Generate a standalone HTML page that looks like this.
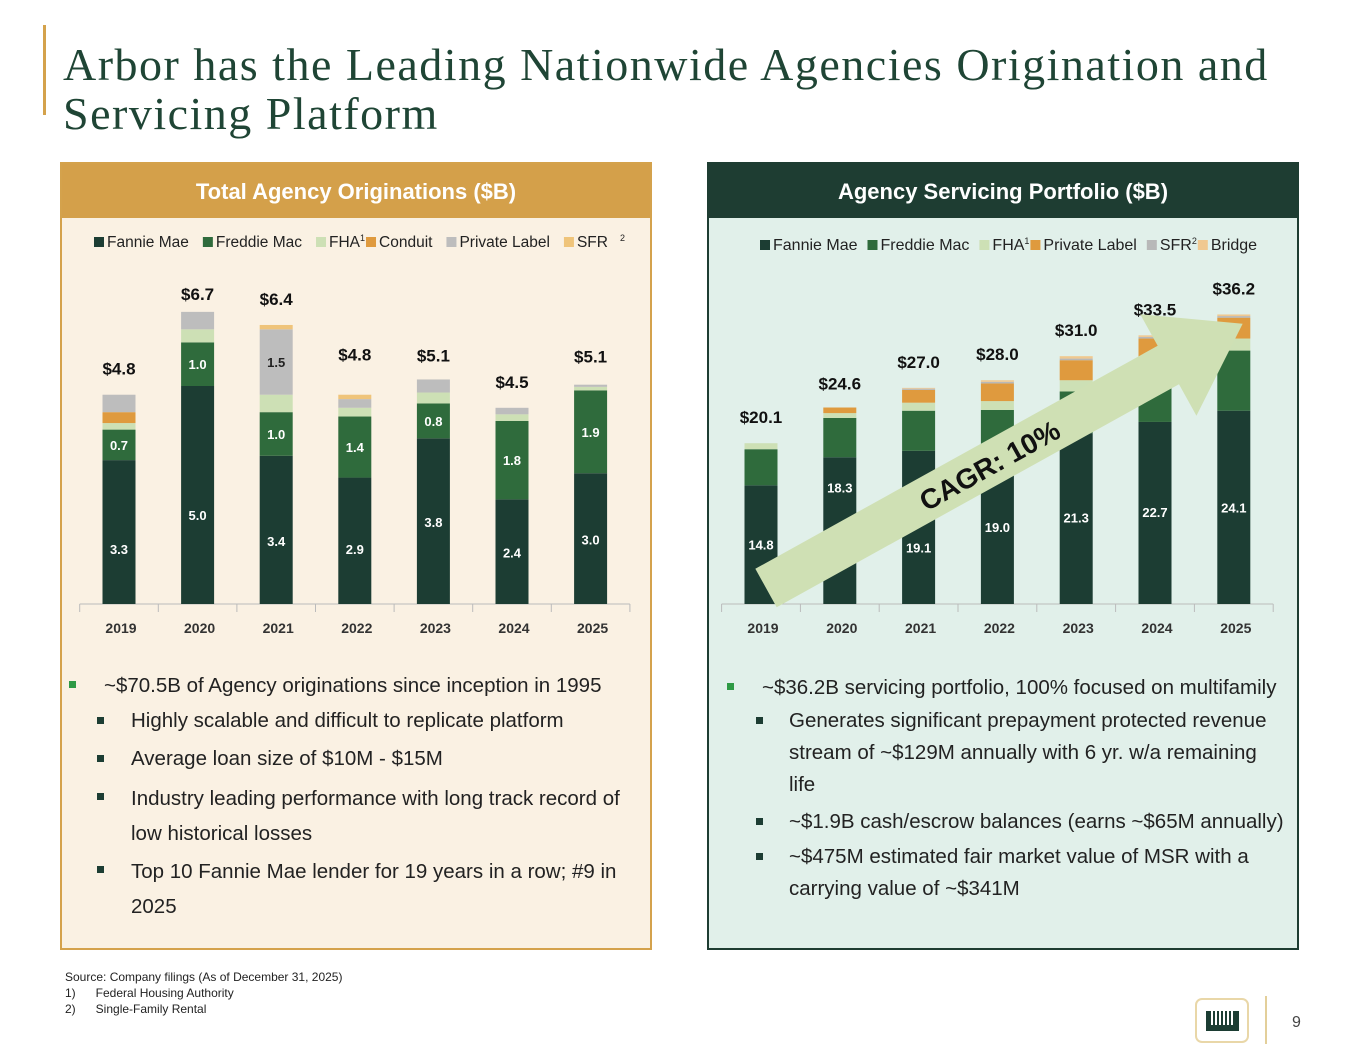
<!DOCTYPE html>
<html><head><meta charset="utf-8">
<style>
*{margin:0;padding:0;box-sizing:border-box}
body{width:1365px;height:1055px;background:#fff;position:relative;overflow:hidden;font-family:"Liberation Sans",Arial,sans-serif}
.abs{position:absolute}
#title{left:63px;top:40px;font-family:"Liberation Serif",serif;font-size:46px;letter-spacing:1.5px;line-height:49px;color:#1f4535}
.panel{position:absolute;top:162px;height:788px;width:592px}
.hdr{position:absolute;left:0;top:0;width:100%;height:54px;color:#fff;font-weight:bold;font-size:22px;text-align:center;line-height:56px}
.b{position:absolute;font-size:20.5px;line-height:32px;color:#222;white-space:nowrap}
.m{position:absolute;width:7px;height:7px}
.fn{position:absolute;font-size:12px;color:#222}
</style></head><body>
<div class="abs" style="left:43px;top:25px;width:3px;height:90px;background:#d4a24c"></div>
<div id="title" class="abs">Arbor has the Leading Nationwide Agencies Origination and<br>Servicing Platform</div>

<div class="panel" style="left:60px;background:#faf1e3;border:2px solid #d4a24c">
 <div class="hdr" style="background:#d4a04a">Total Agency Originations ($B)</div>
</div>
<div class="panel" style="left:707px;background:#e1f0ea;border:2px solid #1e3d32">
 <div class="hdr" style="background:#1e3d32">Agency Servicing Portfolio ($B)</div>
</div>

<svg class="abs" style="left:0;top:0" width="1365" height="1055" id="charts"></svg>

<!-- left bullets -->
<div class="m" style="left:69px;top:681px;background:#2e9a45"></div>
<div class="b" style="left:104px;top:670px">~$70.5B of Agency originations since inception in 1995</div>
<div class="m" style="left:97px;top:717px;background:#1c3d33"></div>
<div class="b" style="left:131px;top:705px">Highly scalable and difficult to replicate platform</div>
<div class="m" style="left:97px;top:755px;background:#1c3d33"></div>
<div class="b" style="left:131px;top:743px">Average loan size of $10M - $15M</div>
<div class="m" style="left:97px;top:793px;background:#1c3d33"></div>
<div class="b" style="left:131px;top:781px;line-height:35px">Industry leading performance with long track record of<br>low historical losses</div>
<div class="m" style="left:97px;top:866px;background:#1c3d33"></div>
<div class="b" style="left:131px;top:854px;line-height:35px">Top 10 Fannie Mae lender for 19 years in a row; #9 in<br>2025</div>

<!-- right bullets -->
<div class="m" style="left:727px;top:683px;background:#2e9a45"></div>
<div class="b" style="left:762px;top:672px">~$36.2B servicing portfolio, 100% focused on multifamily</div>
<div class="m" style="left:756px;top:717px;background:#1c3d33"></div>
<div class="b" style="left:789px;top:705px">Generates significant prepayment protected revenue<br>stream of ~$129M annually with 6 yr. w/a remaining<br>life</div>
<div class="m" style="left:756px;top:818px;background:#1c3d33"></div>
<div class="b" style="left:789px;top:806px">~$1.9B cash/escrow balances (earns ~$65M annually)</div>
<div class="m" style="left:756px;top:853px;background:#1c3d33"></div>
<div class="b" style="left:789px;top:841px">~$475M estimated fair market value of MSR with a<br>carrying value of ~$341M</div>

<div class="fn" style="left:65px;top:970px">Source: Company filings (As of December 31, 2025)</div>
<div class="fn" style="left:65px;top:986px">1)&nbsp;&nbsp;&nbsp;&nbsp;&nbsp;&nbsp;Federal Housing Authority</div>
<div class="fn" style="left:65px;top:1002px">2)&nbsp;&nbsp;&nbsp;&nbsp;&nbsp;&nbsp;Single-Family Rental</div>

<div class="abs" style="left:1195px;top:998px;width:54px;height:45px;border:2px solid #e9d7a8;border-radius:7px;background:#fff">
 <div style="position:absolute;left:9px;top:11px;width:33px;height:20px;background:#1c3d33"></div>
 <div style="position:absolute;left:14px;top:11px;width:23px;height:14px;background:repeating-linear-gradient(90deg,#fff 0 2px,#1c3d33 2px 4px)"></div>
</div>
<div class="abs" style="left:1265px;top:996px;width:2px;height:48px;background:#e3cf9a"></div>
<div class="abs" style="left:1292px;top:1014px;font-size:16px;color:#444">9</div>

<script>
const years = ['2019','2020','2021','2022','2023','2024','2025'];
// Left chart: Total Agency Originations ($B)
const oFannie = [3.3,5.0,3.4,2.9,3.8,2.4,3.0];
const oFreddie = [0.7,1.0,1.0,1.4,0.8,1.8,1.9];
const oFHA = [0.15,0.3,0.4,0.2,0.25,0.15,0.08];
const oConduit = [0.25,0,0,0,0,0,0];
const oPrivate = [0.4,0.4,1.5,0.2,0.3,0.15,0.05];
const oSFR = [0,0,0.1,0.1,0,0,0];
const oTotals = ['$4.8','$6.7','$6.4','$4.8','$5.1','$4.5','$5.1'];
// Right chart: Agency Servicing Portfolio ($B)
const sFannie = [14.8,18.3,19.1,19.0,21.3,22.7,24.1];
const sFreddie = [4.5,4.9,5.0,5.2,5.2,6.4,7.5];
const sFHA = [0.75,0.6,1.0,1.1,1.4,1.4,1.5];
const sPrivate = [0,0.7,1.6,2.2,2.5,2.6,2.6];
const sSFR = [0,0,0.15,0.2,0.2,0.2,0.2];
const sBridge = [0,0,0.1,0.2,0.3,0.2,0.2];
const sTotals = ['$20.1','$24.6','$27.0','$28.0','$31.0','$33.5','$36.2'];

const NS='http://www.w3.org/2000/svg';
const svg=document.getElementById('charts');
function mk(tag,attrs,parent){const e=document.createElementNS(NS,tag);for(const k in attrs)e.setAttribute(k,attrs[k]);(parent||svg).appendChild(e);return e;}

function drawChart(cfg){
  const g=mk('g',{});
  
  
  const xC=i=>cfg.x0+i*cfg.step;
  const yV=v=>cfg.base-v*cfg.scale;
  const ax=mk('line',{x1:cfg.x0-cfg.step/2,x2:cfg.x0+6.5*cfg.step,y1:cfg.base,y2:cfg.base,stroke:'#bbb','stroke-width':1},g);
  
  
  for(let i=0;i<=7;i++){const tx=cfg.x0+(i-0.5)*cfg.step;const t=mk('line',{x1:tx,x2:tx,y1:cfg.base,y2:cfg.base+8,stroke:'#bbb'},g);
    
    }
  years.forEach((y,i)=>{
    let cum=0;
    cfg.series.forEach(s=>{
      const v=s.data[i]; if(v<=0)return;
      const r=mk('rect',{x:xC(i)-16.5,width:33,y:yV(cum+v),height:v*cfg.scale,fill:s.color},g);
      
      
      if(s.label && (s.labelIf?s.labelIf(i):true)){
        const t=mk('text',{x:xC(i),y:yV(cum+v/2)+(s.dy?s.dy(i):5),'text-anchor':'middle','font-size':13,'font-weight':'bold',fill:s.labelColor||'#fff'},g);
        t.textContent=v.toFixed(1);
        
        
      }
      cum+=v;
    });
    const tl=mk('text',{x:xC(i),y:yV(cum)-cfg.totOff(i),'text-anchor':'middle','font-size':17,'font-weight':'bold',fill:'#111'},g);
    tl.textContent=cfg.totals[i];
    
    
    const yl=mk('text',{x:xC(i)+2,y:cfg.base+29,'text-anchor':'middle','font-size':14,'font-weight':'bold',fill:'#333'},g);
    yl.textContent=y;
    
    
  });
  let lx=cfg.legX;
  cfg.series.forEach(s=>{
    const r=mk('rect',{x:lx,y:cfg.legY-10,width:10,height:10,fill:s.color},g);
    
    
    const t=mk('text',{x:lx+13,y:cfg.legY,'font-size':cfg.legFont,fill:'#222'},g);
    t.textContent=s.name;
    
    
    let w=t.getComputedTextLength();
    if(s.sup){const sp=mk('text',{x:lx+13+w,y:cfg.legY-6,'font-size':9,fill:'#222'},g);sp.textContent=s.sup;}
    lx+=13+w+(s.gap||cfg.legGap);
  });
}

drawChart({name:'originations-chart',x0:119,step:78.6,base:604,scale:43.6,totals:oTotals,legX:94,legY:247,legFont:15.5,legGap:14,
  totOff:i=>[20,12,20,34,18,20,22][i],
  series:[
    {key:'fannie',name:'Fannie Mae',color:'#1c3d33',data:oFannie,label:true,dy:i=>[22,25,16,13,6,6,6][i]},
    {key:'freddie',name:'Freddie Mac',color:'#2f6b3c',data:oFreddie,label:true},
    {key:'fha',name:'FHA',sup:'1',color:'#cde0b5',data:oFHA,gap:6},
    {key:'conduit',name:'Conduit',color:'#df9a3e',data:oConduit},
    {key:'private',name:'Private Label',color:'#bdbdbd',data:oPrivate,label:true,labelIf:i=>i===2,labelColor:'#222'},
    {key:'sfr',name:'SFR',color:'#efc47a',data:oSFR}
  ]});
drawChart({name:'servicing-chart',x0:761,step:78.8,base:604,scale:8.02,totals:sTotals,legX:760,legY:250,legFont:16,legGap:10,
  totOff:i=>[20,18,20,20,20,20,20][i],
  series:[
    {key:'fannie',name:'Fannie Mae',color:'#1c3d33',data:sFannie,label:true,dy:i=>[5,-38,25,4,4,4,5][i]},
    {key:'freddie',name:'Freddie Mac',color:'#2f6b3c',data:sFreddie},
    {key:'fha',name:'FHA',sup:'1',color:'#cde0b5',data:sFHA,gap:6},
    {key:'private',name:'Private Label',color:'#df9a3e',data:sPrivate},
    {key:'sfr',name:'SFR',sup:'2',color:'#b8b8b8',data:sSFR,gap:6},
    {key:'bridge',name:'Bridge',color:'#f0c890',data:sBridge}
  ]});
const s2=mk('text',{x:620,y:241,'font-size':9,fill:'#222'});s2.textContent='2';
const ag=mk('g',{transform:'translate(766,588) rotate(-29)'});


mk('polygon',{points:'0,-22 460,-22 460,-58 545,0 460,58 460,22 0,22',fill:'#cfe0b4'},ag);
const ct=mk('text',{x:255,y:11,'text-anchor':'middle','font-size':28,'font-weight':'bold',fill:'#111'},ag);
ct.textContent='CAGR: 10%';


</script>
</body></html>
